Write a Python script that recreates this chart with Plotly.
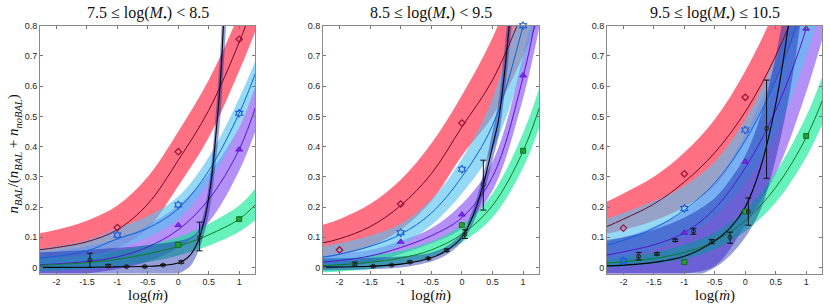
import plotly.graph_objects as go

# ---------------- data ----------------
XS = [-2.3, -2, -1.5, -1, -0.5, 0, 0.5, 1, 1.3]
X_TICKS = [-2, -1.5, -1, -0.5, 0, 0.5, 1]
X_TICKTEXT = ["-2", "-1.5", "-1", "-0.5", "0", "0.5", "1"]
Y_TICKS = [0, 0.1, 0.2, 0.3, 0.4, 0.5, 0.6, 0.7, 0.8]
Y_TICKTEXT = ["0", "0.1", "0.2", "0.3", "0.4", "0.5", "0.6", "0.7", "0.8"]
TITLES = ["7.5 \u2264 log(<i>M</i><sub>\u2022</sub>) < 8.5",
          "8.5 \u2264 log(<i>M</i><sub>\u2022</sub>) < 9.5",
          "9.5 \u2264 log(<i>M</i><sub>\u2022</sub>) \u2264 10.5"]

# panel 1 : 7.5 <= log M < 8.5
P1_RED = [0.058, 0.066, 0.085, 0.125, 0.21, 0.355, 0.52, 0.745, 0.91]
P1_RED_HI = [0.112, 0.125, 0.155, 0.205, 0.30, 0.45, 0.62, 0.84, 1.0]
P1_RED_LO = [0.013, 0.02, 0.035, 0.065, 0.13, 0.27, 0.43, 0.65, 0.80]
P1_BLUE = [0.03, 0.037, 0.055, 0.095, 0.13, 0.195, 0.32, 0.51, 0.66]
P1_BLUE_HI = [0.062, 0.07, 0.09, 0.13, 0.17, 0.235, 0.365, 0.56, 0.70]
P1_BLUE_LO = [0.002, 0.007, 0.02, 0.06, 0.10, 0.16, 0.28, 0.465, 0.61]
P1_PURP = [0.009, 0.012, 0.02, 0.035, 0.068, 0.125, 0.225, 0.39, 0.55]
P1_PURP_HI = [0.048, 0.055, 0.07, 0.095, 0.14, 0.205, 0.31, 0.465, 0.62]
P1_PURP_LO = [-0.03, -0.028, -0.02, -0.005, 0.02, 0.065, 0.15, 0.32, 0.47]
P1_GREEN = [0.007, 0.01, 0.016, 0.027, 0.045, 0.07, 0.108, 0.16, 0.215]
P1_GREEN_HI = [0.029, 0.033, 0.042, 0.055, 0.075, 0.10, 0.145, 0.205, 0.27]
P1_GREEN_LO = [-0.013, -0.01, -0.005, 0.003, 0.018, 0.04, 0.072, 0.118, 0.163]
P1_BLK_X = [-2.3, -1.5, -1, -0.5, -0.25, 0, 0.1, 0.2, 0.3, 0.35, 0.4, 0.45, 0.5,
            0.55, 0.6, 0.65, 0.7, 0.75, 0.8]
P1_BLK = [0.0005, 0.001, 0.002, 0.004, 0.007, 0.015, 0.025, 0.042, 0.075, 0.1,
          0.135, 0.175, 0.23, 0.3, 0.4, 0.51, 0.64, 0.84, 1.05]
P1_BLK_HI = [0.05, 0.058, 0.065, 0.074, 0.08, 0.088, 0.093, 0.1, 0.115, 0.135,
             0.165, 0.21, 0.27, 0.355, 0.47, 0.6, 0.75, 0.98, 1.2]
P1_BLK_LO = [-0.03, -0.03, -0.03, -0.028, -0.025, -0.02, -0.01, 0.005, 0.04, 0.065,
             0.095, 0.13, 0.175, 0.235, 0.32, 0.41, 0.52, 0.68, 0.85]
P1_RED_PTS_X = [-1, 0, 1]
P1_RED_PTS_Y = [0.132, 0.383, 0.755]
P1_BLUE_PTS_X = [-1, 0, 1]
P1_BLUE_PTS_Y = [0.107, 0.207, 0.51]
P1_PURP_PTS_X = [0, 1]
P1_PURP_PTS_Y = [0.14, 0.39]
P1_GREEN_PTS_X = [0, 1]
P1_GREEN_PTS_Y = [0.075, 0.16]
P1_BLK_PTS_X = [-1.45, -1.15, -0.85, -0.55, -0.25, 0.05, 0.35]
P1_BLK_PTS_Y = [0.025, 0.005, 0.003, 0.003, 0.008, 0.018, 0.10]
P1_BLK_ERR_LO = [0.025, 0.004, 0.002, 0.002, 0.002, 0.004, 0.045]
P1_BLK_ERR_HI = [0.022, 0.005, 0.002, 0.002, 0.002, 0.004, 0.05]

# panel 2 : 8.5 <= log M < 9.5
P2_RED = [0.08, 0.095, 0.135, 0.205, 0.31, 0.465, 0.62, 0.85, 1.02]
P2_RED_HI = [0.14, 0.16, 0.21, 0.29, 0.41, 0.57, 0.76, 1.02, 1.2]
P2_RED_LO = [0.028, 0.04, 0.07, 0.125, 0.22, 0.37, 0.50, 0.70, 0.84]
P2_BLUE = [0.033, 0.044, 0.07, 0.11, 0.18, 0.30, 0.47, 0.80, 1.07]
P2_BLUE_HI = [0.068, 0.08, 0.105, 0.145, 0.225, 0.36, 0.56, 0.93, 1.25]
P2_BLUE_LO = [0.004, 0.012, 0.035, 0.075, 0.14, 0.245, 0.39, 0.67, 0.9]
P2_PURP = [0.017, 0.023, 0.038, 0.066, 0.105, 0.165, 0.30, 0.63, 0.92]
P2_PURP_HI = [0.038, 0.045, 0.058, 0.088, 0.13, 0.21, 0.35, 0.70, 1.0]
P2_PURP_LO = [-0.006, 0.0, 0.015, 0.045, 0.08, 0.13, 0.255, 0.56, 0.83]
P2_GREEN = [0.006, 0.009, 0.017, 0.031, 0.058, 0.11, 0.205, 0.385, 0.55]
P2_GREEN_HI = [0.028, 0.032, 0.04, 0.055, 0.085, 0.14, 0.245, 0.445, 0.615]
P2_GREEN_LO = [-0.016, -0.013, -0.005, 0.01, 0.035, 0.083, 0.165, 0.33, 0.485]
P2_BLK_X = [-2.3, -1.5, -1, -0.5, -0.25, 0, 0.2, 0.35, 0.5, 0.6, 0.7, 0.8, 0.9]
P2_BLK = [0.001, 0.004, 0.011, 0.032, 0.056, 0.10, 0.18, 0.275, 0.40, 0.49, 0.65, 0.86, 1.1]
P2_BLK_HI = [0.03, 0.032, 0.036, 0.05, 0.07, 0.115, 0.205, 0.31, 0.45, 0.55, 0.73, 0.96, 1.23]
P2_BLK_LO = [-0.01, -0.006, 0.0, 0.02, 0.042, 0.085, 0.155, 0.24, 0.355, 0.435, 0.58, 0.77, 0.98]
P2_RED_PTS_X = [-2, -1, 0]
P2_RED_PTS_Y = [0.058, 0.21, 0.478]
P2_BLUE_PTS_X = [-1, 0, 1]
P2_BLUE_PTS_Y = [0.115, 0.325, 0.80]
P2_PURP_PTS_X = [-1, 0, 1]
P2_PURP_PTS_Y = [0.085, 0.175, 0.635]
P2_GREEN_PTS_X = [0, 1]
P2_GREEN_PTS_Y = [0.14, 0.386]
P2_BLK_PTS_X = [-1.75, -1.45, -1.15, -0.85, -0.55, -0.25, 0.05, 0.35]
P2_BLK_PTS_Y = [0.01, 0.004, 0.008, 0.018, 0.03, 0.057, 0.11, 0.275]
P2_BLK_ERR_LO = [0.006, 0.002, 0.002, 0.003, 0.003, 0.004, 0.014, 0.085]
P2_BLK_ERR_HI = [0.008, 0.002, 0.002, 0.003, 0.003, 0.004, 0.015, 0.08]

# panel 3 : 9.5 <= log M <= 10.5
P3_RED = [0.133, 0.16, 0.21, 0.283, 0.38, 0.515, 0.70, 0.95, 1.15]
P3_RED_HI = [0.215, 0.245, 0.30, 0.38, 0.49, 0.65, 0.86, 1.15, 1.35]
P3_RED_LO = [0.11, 0.125, 0.155, 0.20, 0.27, 0.42, 0.62, 0.86, 1.05]
P3_BLUE = [0.072, 0.09, 0.13, 0.19, 0.28, 0.42, 0.62, 0.90, 1.15]
P3_BLUE_HI = [0.16, 0.18, 0.22, 0.27, 0.35, 0.49, 0.70, 1.0, 1.2]
P3_BLUE_LO = [0.02, 0.03, 0.06, 0.10, 0.17, 0.28, 0.44, 0.70, 0.9]
P3_PURP = [0.04, 0.052, 0.075, 0.115, 0.195, 0.33, 0.52, 0.79, 1.03]
P3_PURP_HI = [0.085, 0.10, 0.135, 0.185, 0.28, 0.44, 0.68, 1.0, 1.25]
P3_PURP_LO = [-0.04, -0.036, -0.03, -0.02, 0.005, 0.14, 0.31, 0.58, 0.78]
P3_GREEN = [0.014, 0.019, 0.03, 0.05, 0.087, 0.155, 0.265, 0.43, 0.57]
P3_GREEN_HI = [0.029, 0.035, 0.05, 0.075, 0.115, 0.19, 0.315, 0.50, 0.65]
P3_GREEN_LO = [0.0, 0.004, 0.012, 0.028, 0.06, 0.12, 0.215, 0.365, 0.49]
P3_BLK_X = [-2.3, -2, -1.5, -1, -0.5, -0.25, 0, 0.25, 0.5, 0.75, 1.0]
P3_BLK = [0.005, 0.008, 0.017, 0.037, 0.088, 0.13, 0.20, 0.33, 0.54, 0.87, 1.4]
P3_BLK_HI = [0.09, 0.10, 0.125, 0.165, 0.23, 0.29, 0.37, 0.50, 0.70, 1.0, 1.4]
P3_BLK_LO = [-0.05, -0.05, -0.045, -0.04, 0.0, 0.04, 0.10, 0.19, 0.36, 0.60, 0.95]
P3_RED_PTS_X = [-2, -1, 0]
P3_RED_PTS_Y = [0.13, 0.31, 0.563]
P3_BLUE_PTS_X = [-2, -1, 0]
P3_BLUE_PTS_Y = [0.022, 0.195, 0.455]
P3_PURP_PTS_X = [-1, 0, 1]
P3_PURP_PTS_Y = [0.115, 0.35, 0.79]
P3_GREEN_PTS_X = [-1, 0, 1]
P3_GREEN_PTS_Y = [0.018, 0.185, 0.435]
P3_BLK_PTS_X = [-1.75, -1.45, -1.15, -0.85, -0.55, -0.25, 0.05, 0.35]
P3_BLK_PTS_Y = [0.037, 0.045, 0.09, 0.12, 0.085, 0.10, 0.185, 0.46]
P3_BLK_ERR_LO = [0.012, 0.004, 0.004, 0.01, 0.006, 0.02, 0.045, 0.165]
P3_BLK_ERR_HI = [0.013, 0.004, 0.004, 0.01, 0.008, 0.017, 0.045, 0.16]

# ---------------- styles ----------------
BAND = {"red": "rgba(255,24,55,0.62)", "blue": "rgba(86,193,240,0.62)",
        "purp": "rgba(132,78,240,0.62)", "green": "rgba(9,232,147,0.62)",
        "blk": "rgba(20,40,170,0.45)"}
LINE = {"red": "#6e0a2a", "blue": "#0a64d8", "purp": "#5a14d0",
        "green": "#0a8020", "blk": "#000000"}
BAND_ORDER = ["red", "purp", "green", "blue"]
SERIF = "Liberation Serif"
SANS = "Liberation Sans"

PANELS = [
    dict(red=(P1_RED, P1_RED_LO, P1_RED_HI), blue=(P1_BLUE, P1_BLUE_LO, P1_BLUE_HI),
         purp=(P1_PURP, P1_PURP_LO, P1_PURP_HI), green=(P1_GREEN, P1_GREEN_LO, P1_GREEN_HI),
         blk=(P1_BLK_X, P1_BLK, P1_BLK_LO, P1_BLK_HI),
         pts=dict(red=(P1_RED_PTS_X, P1_RED_PTS_Y), blue=(P1_BLUE_PTS_X, P1_BLUE_PTS_Y),
                  purp=(P1_PURP_PTS_X, P1_PURP_PTS_Y), green=(P1_GREEN_PTS_X, P1_GREEN_PTS_Y)),
         bpts=(P1_BLK_PTS_X, P1_BLK_PTS_Y, P1_BLK_ERR_LO, P1_BLK_ERR_HI)),
    dict(red=(P2_RED, P2_RED_LO, P2_RED_HI), blue=(P2_BLUE, P2_BLUE_LO, P2_BLUE_HI),
         purp=(P2_PURP, P2_PURP_LO, P2_PURP_HI), green=(P2_GREEN, P2_GREEN_LO, P2_GREEN_HI),
         blk=(P2_BLK_X, P2_BLK, P2_BLK_LO, P2_BLK_HI),
         pts=dict(red=(P2_RED_PTS_X, P2_RED_PTS_Y), blue=(P2_BLUE_PTS_X, P2_BLUE_PTS_Y),
                  purp=(P2_PURP_PTS_X, P2_PURP_PTS_Y), green=(P2_GREEN_PTS_X, P2_GREEN_PTS_Y)),
         bpts=(P2_BLK_PTS_X, P2_BLK_PTS_Y, P2_BLK_ERR_LO, P2_BLK_ERR_HI)),
    dict(red=(P3_RED, P3_RED_LO, P3_RED_HI), blue=(P3_BLUE, P3_BLUE_LO, P3_BLUE_HI),
         purp=(P3_PURP, P3_PURP_LO, P3_PURP_HI), green=(P3_GREEN, P3_GREEN_LO, P3_GREEN_HI),
         blk=(P3_BLK_X, P3_BLK, P3_BLK_LO, P3_BLK_HI),
         pts=dict(red=(P3_RED_PTS_X, P3_RED_PTS_Y), blue=(P3_BLUE_PTS_X, P3_BLUE_PTS_Y),
                  purp=(P3_PURP_PTS_X, P3_PURP_PTS_Y), green=(P3_GREEN_PTS_X, P3_GREEN_PTS_Y)),
         bpts=(P3_BLK_PTS_X, P3_BLK_PTS_Y, P3_BLK_ERR_LO, P3_BLK_ERR_HI)),
]

MARKERS = {
    "red": dict(symbol="diamond-open", size=5, color="#a0103a", line=dict(width=1.2, color="#a0103a")),
    "blue": dict(symbol="hexagram-open", size=6, color="#1a5ad8", line=dict(width=1.1, color="#1a5ad8")),
    "purp": dict(symbol="triangle-up", size=6, color="#7a2ae0", line=dict(width=0.8, color="#5a14d0")),
    "green": dict(symbol="square", size=5, color="#22a030", line=dict(width=0.8, color="#0a6018")),
}

W, H = 830, 306
PX = [(40, 255), (323, 539), (607, 822)]
TOP, BOT = 21, 273

fig = go.Figure()

for i, p in enumerate(PANELS):
    xa = "x" if i == 0 else f"x{i+1}"
    ya = "y" if i == 0 else f"y{i+1}"
    # bands
    for key in BAND_ORDER:
        mid, lo, hi = p[key]
        fig.add_trace(go.Scatter(x=XS, y=lo, mode="lines", line=dict(width=0, shape="spline"),
                                 xaxis=xa, yaxis=ya, showlegend=False, hoverinfo="skip"))
        fig.add_trace(go.Scatter(x=XS, y=hi, mode="lines", line=dict(width=0, shape="spline"),
                                 fill="tonexty", fillcolor=BAND[key],
                                 xaxis=xa, yaxis=ya, showlegend=False, hoverinfo="skip"))
    bx, bmid, blo, bhi = p["blk"]
    fig.add_trace(go.Scatter(x=bx, y=blo, mode="lines", line=dict(width=0, shape="spline"),
                             xaxis=xa, yaxis=ya, showlegend=False, hoverinfo="skip"))
    fig.add_trace(go.Scatter(x=bx, y=bhi, mode="lines", line=dict(width=0, shape="spline"),
                             fill="tonexty", fillcolor=BAND["blk"],
                             xaxis=xa, yaxis=ya, showlegend=False, hoverinfo="skip"))
    # fitted curves
    for key in ["red", "blue", "purp", "green"]:
        mid = p[key][0]
        fig.add_trace(go.Scatter(x=XS, y=mid, mode="lines",
                                 line=dict(width=1, color=LINE[key], shape="spline"),
                                 xaxis=xa, yaxis=ya, showlegend=False))
    fig.add_trace(go.Scatter(x=bx, y=bmid, mode="lines",
                             line=dict(width=1.1, color=LINE["blk"], shape="spline"),
                             xaxis=xa, yaxis=ya, showlegend=False))
    # data points
    for key in ["red", "blue", "purp", "green"]:
        px_, py_ = p["pts"][key]
        fig.add_trace(go.Scatter(x=px_, y=py_, mode="markers", marker=MARKERS[key],
                                 xaxis=xa, yaxis=ya, showlegend=False, cliponaxis=False))
    qx, qy, qlo, qhi = p["bpts"]
    fig.add_trace(go.Scatter(x=qx, y=qy, mode="markers",
                             marker=dict(symbol="circle-open", size=4, color="#222",
                                         line=dict(width=1, color="#222")),
                             error_y=dict(type="data", array=qhi, arrayminus=qlo,
                                          color="#111", thickness=1, width=3),
                             xaxis=xa, yaxis=ya, showlegend=False))

axis_common = dict(showline=True, linecolor="#8a8a8a", linewidth=1, mirror="ticks",
                   ticks="inside", ticklen=3, tickcolor="#777", showgrid=False,
                   zeroline=False, tickfont=dict(family=SANS, size=9, color="#262626"))
layout = dict(width=W, height=H, margin=dict(l=0, r=0, t=0, b=0),
              paper_bgcolor="white", plot_bgcolor="white", showlegend=False)
annotations = []
for i in range(3):
    sx = "" if i == 0 else str(i + 1)
    x0, x1 = PX[i]
    layout[f"xaxis{sx}"] = dict(axis_common, domain=[x0 / W, x1 / W], range=[-2.27, 1.26],
                                tickvals=X_TICKS, ticktext=X_TICKTEXT, anchor=f"y{sx}")
    layout[f"yaxis{sx}"] = dict(axis_common, domain=[1 - BOT / H, 1 - TOP / H], range=[-0.02, 0.8],
                                tickvals=Y_TICKS, ticktext=Y_TICKTEXT, anchor=f"x{sx}")
    cx = (x0 + x1) / 2 / W
    annotations.append(dict(text=TITLES[i], x=cx, y=1 - 9 / H, xref="paper", yref="paper",
                            xanchor="center", yanchor="middle", showarrow=False,
                            font=dict(family=SERIF, size=16, color="#111")))
    annotations.append(dict(text="log(<i>\u1e41</i>)", x=cx, y=1 - 295 / H, xref="paper",
                            yref="paper", xanchor="center", yanchor="middle", showarrow=False,
                            font=dict(family=SERIF, size=15, color="#111")))
annotations.append(dict(text="<i>n</i><sub><i>BAL</i></sub>/(<i>n</i><sub><i>BAL</i></sub> + "
                             "<i>n</i><sub><i>noBAL</i></sub>)",
                        x=14 / W, y=1 - 152 / H, xref="paper", yref="paper", textangle=-90,
                        xanchor="center", yanchor="middle", showarrow=False,
                        font=dict(family=SERIF, size=15, color="#111")))
layout["annotations"] = annotations
fig.update_layout(**layout)
fig.write_html("out.html", config={"displayModeBar": False},
               post_script="document.body.style.margin='0';document.body.style.overflow='hidden';")
